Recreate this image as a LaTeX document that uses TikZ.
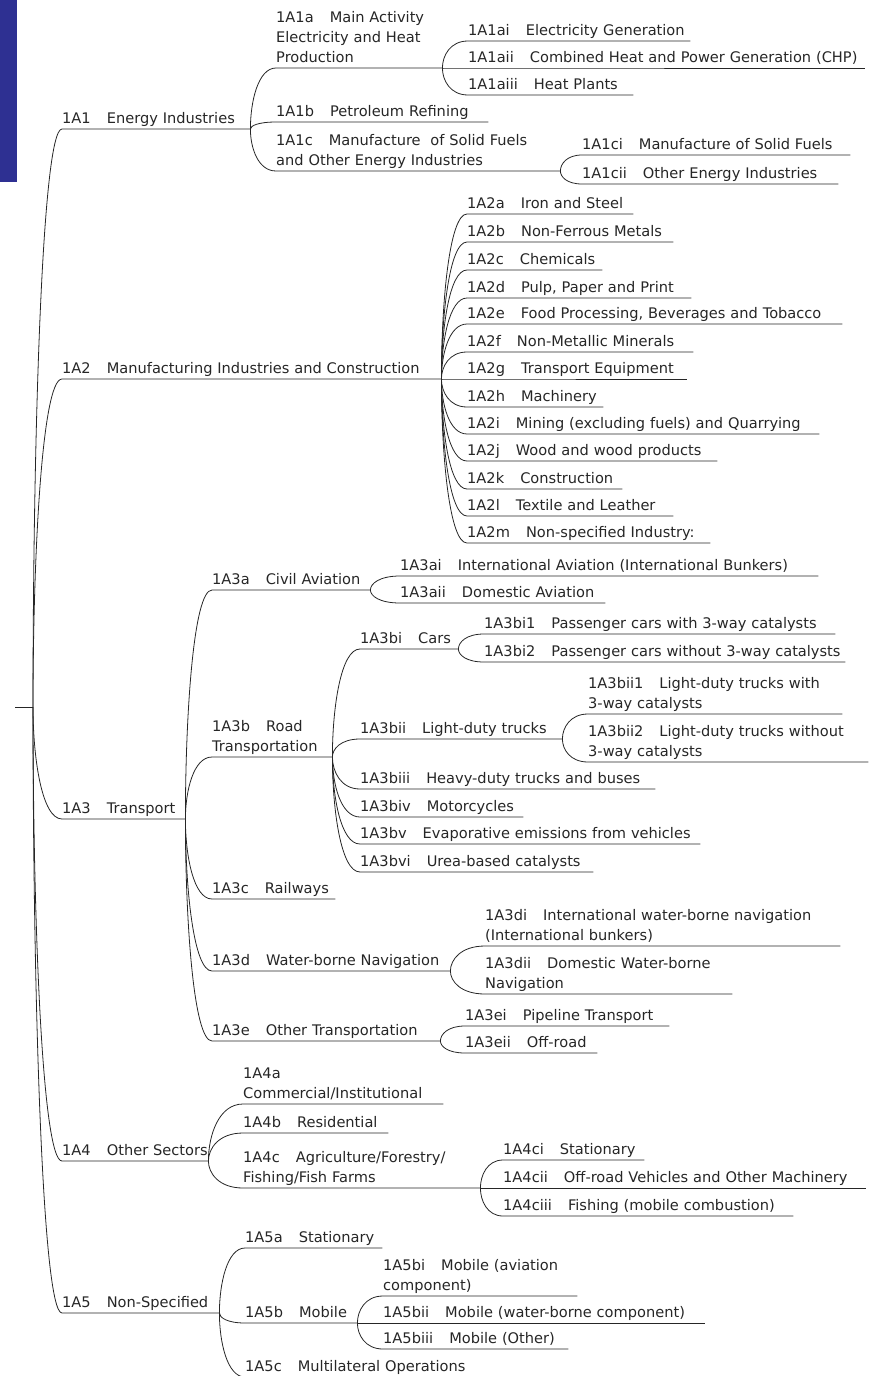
\documentclass[tikz,border=0pt]{standalone}
\usepackage{fontspec}
\newfontfamily\mapfont{DejaVu Sans}
\usetikzlibrary{calc}
\definecolor{sidebar}{RGB}{46,48,146}
\definecolor{inkgray}{RGB}{38,38,38}
\newcommand{\codegap}{\hspace{1.1em}}
\tikzset{
        item/.style={anchor=south west, inner sep=0pt, text depth=5pt,
                text=inkgray, font=\mapfont\fontsize{14.6}{20}\selectfont,
                execute at begin node={\rightskip=0pt minus 300pt}},
        twoline/.style={text depth=25pt},
        threeline/.style={text depth=45pt},
        branch/.style={to path={.. controls ($(\tikztostart)!0.45!(\tikztostart|-\tikztotarget)$)
                and ($(\tikztostart|-\tikztotarget)!0.3!(\tikztotarget)$) .. (\tikztotarget)}},
        link/.style={draw=inkgray, line width=0.8pt}
}
\begin{document}
\begin{tikzpicture}[x=1pt, y=-1pt]
        \useasboundingbox (0,0) rectangle (879,1376);
        \fill[sidebar] (0,0) rectangle (17,182);

        % raiz
        \coordinate (stub) at (15,707);
        \coordinate (root) at (33,707);
        \draw[link] (stub) -- (root);

        % primeiro nivel
        \node[item, text width=188pt] (a1) at (62,129) {1A1\codegap Energy Industries};
        \node[item, text width=379pt] (a2) at (62,379) {1A2\codegap Manufacturing Industries and Construction};
        \node[item, text width=123pt] (a3) at (62,819) {1A3\codegap Transport};
        \node[item, text width=146pt] (a4) at (62,1161) {1A4\codegap Other Sectors};
        \node[item, text width=157pt] (a5) at (62,1313) {1A5\codegap Non-Specified};
        \foreach \k in {a1,a2,a3,a4,a5}
                \draw[link] (root) to[branch] (\k.south west) -- (\k.south east);

        % 1A1
        \node[item, threeline, text width=166pt] (a1a) at (276,68) {1A1a\codegap Main Activity\\Electricity and Heat\\Production};
        \node[item, text width=212pt] (a1b) at (276,122) {1A1b\codegap Petroleum Refining};
        \node[item, twoline, text width=284pt] (a1c) at (276,171) {1A1c\codegap Manufacture\ \ of Solid Fuels\\and Other Energy Industries};
        \node[item, text width=222pt] (a1ai) at (468,41) {1A1ai\codegap Electricity Generation};
        \node[item, text width=397pt] (a1aii) at (468,68) {1A1aii\codegap Combined Heat and Power Generation (CHP)};
        \node[item, text width=165pt] (a1aiii) at (468,95) {1A1aiii\codegap Heat Plants};
        \node[item, text width=268pt] (a1ci) at (582,155) {1A1ci\codegap Manufacture of Solid Fuels};
        \node[item, text width=256pt] (a1cii) at (582,184) {1A1cii\codegap Other Energy Industries};
        \foreach \k in {a1a,a1b,a1c}
                \draw[link] (a1.south east) to[branch] (\k.south west) -- (\k.south east);
        \foreach \k in {a1ai,a1aii,a1aiii}
                \draw[link] (a1a.south east) to[branch] (\k.south west) -- (\k.south east);
        \foreach \k in {a1ci,a1cii}
                \draw[link] (a1c.south east) to[branch] (\k.south west) -- (\k.south east);

        % 1A2
        \node[item, text width=166pt] (a2a) at (467,214) {1A2a\codegap Iron and Steel};
        \node[item, text width=206pt] (a2b) at (467,242) {1A2b\codegap Non-Ferrous Metals};
        \node[item, text width=135pt] (a2c) at (467,270) {1A2c\codegap Chemicals};
        \node[item, text width=224pt] (a2d) at (467,298) {1A2d\codegap Pulp, Paper and Print};
        \node[item, text width=375pt] (a2e) at (467,324) {1A2e\codegap Food Processing, Beverages and Tobacco};
        \node[item, text width=226pt] (a2f) at (467,352) {1A2f\codegap Non-Metallic Minerals};
        \node[item, text width=220pt] (a2g) at (467,379) {1A2g\codegap Transport Equipment};
        \node[item, text width=136pt] (a2h) at (467,407) {1A2h\codegap Machinery};
        \node[item, text width=352pt] (a2i) at (467,434) {1A2i\codegap Mining (excluding fuels) and Quarrying};
        \node[item, text width=250pt] (a2j) at (467,461) {1A2j\codegap Wood and wood products};
        \node[item, text width=155pt] (a2k) at (467,489) {1A2k\codegap Construction};
        \node[item, text width=206pt] (a2l) at (467,516) {1A2l\codegap Textile and Leather};
        \node[item, text width=243pt] (a2m) at (467,543) {1A2m\codegap Non-specified Industry:};
        \foreach \k in {a2a,a2b,a2c,a2d,a2e,a2f,a2g,a2h,a2i,a2j,a2k,a2l,a2m}
                \draw[link] (a2.south east) to[branch] (\k.south west) -- (\k.south east);

        % 1A3
        \node[item, text width=158pt] (a3a) at (212,590) {1A3a\codegap Civil Aviation};
        \node[item, twoline, text width=120pt] (a3b) at (212,757) {1A3b\codegap Road\\Transportation};
        \node[item, text width=123pt] (a3c) at (212,899) {1A3c\codegap Railways};
        \node[item, text width=238pt] (a3d) at (212,971) {1A3d\codegap Water-borne Navigation};
        \node[item, text width=228pt] (a3e) at (212,1041) {1A3e\codegap Other Transportation};
        \foreach \k in {a3a,a3b,a3c,a3d,a3e}
                \draw[link] (a3.south east) to[branch] (\k.south west) -- (\k.south east);

        \node[item, text width=418pt] (a3ai) at (400,576) {1A3ai\codegap International Aviation (International Bunkers)};
        \node[item, text width=205pt] (a3aii) at (400,603) {1A3aii\codegap Domestic Aviation};
        \foreach \k in {a3ai,a3aii}
                \draw[link] (a3a.south east) to[branch] (\k.south west) -- (\k.south east);

        \node[item, text width=98pt] (a3bi) at (360,649) {1A3bi\codegap Cars};
        \node[item, text width=202pt] (a3bii) at (360,739) {1A3bii\codegap Light-duty trucks};
        \node[item, text width=295pt] (a3biii) at (360,789) {1A3biii\codegap Heavy-duty trucks and buses};
        \node[item, text width=163pt] (a3biv) at (360,817) {1A3biv\codegap Motorcycles};
        \node[item, text width=340pt] (a3bv) at (360,844) {1A3bv\codegap Evaporative emissions from vehicles};
        \node[item, text width=233pt] (a3bvi) at (360,872) {1A3bvi\codegap Urea-based catalysts};
        \foreach \k in {a3bi,a3bii,a3biii,a3biv,a3bv,a3bvi}
                \draw[link] (a3b.south east) to[branch] (\k.south west) -- (\k.south east);

        \node[item, text width=351pt] (a3bi1) at (484,634) {1A3bi1\codegap Passenger cars with 3-way catalysts};
        \node[item, text width=361pt] (a3bi2) at (484,662) {1A3bi2\codegap Passenger cars without 3-way catalysts};
        \foreach \k in {a3bi1,a3bi2}
                \draw[link] (a3bi.south east) to[branch] (\k.south west) -- (\k.south east);

        \node[item, twoline, text width=254pt] (a3bii1) at (588,714) {1A3bii1\codegap Light-duty trucks with\\3-way catalysts};
        \node[item, twoline, text width=280pt] (a3bii2) at (588,762) {1A3bii2\codegap Light-duty trucks without\\3-way catalysts};
        \foreach \k in {a3bii1,a3bii2}
                \draw[link] (a3bii.south east) to[branch] (\k.south west) -- (\k.south east);

        \node[item, twoline, text width=355pt] (a3di) at (485,946) {1A3di\codegap International water-borne navigation\\(International bunkers)};
        \node[item, twoline, text width=247pt] (a3dii) at (485,994) {1A3dii\codegap Domestic Water-borne\\Navigation};
        \foreach \k in {a3di,a3dii}
                \draw[link] (a3d.south east) to[branch] (\k.south west) -- (\k.south east);

        \node[item, text width=204pt] (a3ei) at (465,1026) {1A3ei\codegap Pipeline Transport};
        \node[item, text width=132pt] (a3eii) at (465,1053) {1A3eii\codegap Off-road};
        \foreach \k in {a3ei,a3eii}
                \draw[link] (a3e.south east) to[branch] (\k.south west) -- (\k.south east);

        % 1A4
        \node[item, twoline, text width=200pt] (a4a) at (243,1104) {1A4a\\Commercial/Institutional};
        \node[item, text width=145pt] (a4b) at (243,1133) {1A4b\codegap Residential};
        \node[item, twoline, text width=237pt] (a4c) at (243,1188) {1A4c\codegap Agriculture/Forestry/\\Fishing/Fish Farms};
        \foreach \k in {a4a,a4b,a4c}
                \draw[link] (a4.south east) to[branch] (\k.south west) -- (\k.south east);

        \node[item, text width=141pt] (a4ci) at (503,1160) {1A4ci\codegap Stationary};
        \node[item, text width=363pt] (a4cii) at (503,1188) {1A4cii\codegap Off-road Vehicles and Other Machinery};
        \node[item, text width=290pt] (a4ciii) at (503,1216) {1A4ciii\codegap Fishing (mobile combustion)};
        \foreach \k in {a4ci,a4cii,a4ciii}
                \draw[link] (a4c.south east) to[branch] (\k.south west) -- (\k.south east);

        % 1A5
        \node[item, text width=137pt] (a5a) at (245,1248) {1A5a\codegap Stationary};
        \node[item, text width=112pt] (a5b) at (245,1323) {1A5b\codegap Mobile};
        \node[item, text width=245pt] (a5c) at (245,1377) {1A5c\codegap Multilateral Operations};
        \foreach \k in {a5a,a5b,a5c}
                \draw[link] (a5.south east) to[branch] (\k.south west) -- (\k.south east);

        \node[item, twoline, text width=194pt] (a5bi) at (383,1296) {1A5bi\codegap Mobile (aviation\\component)};
        \node[item, text width=322pt] (a5bii) at (383,1323) {1A5bii\codegap Mobile (water-borne component)};
        \node[item, text width=185pt] (a5biii) at (383,1349) {1A5biii\codegap Mobile (Other)};
        \foreach \k in {a5bi,a5bii,a5biii}
                \draw[link] (a5b.south east) to[branch] (\k.south west) -- (\k.south east);
\end{tikzpicture}
\end{document}
